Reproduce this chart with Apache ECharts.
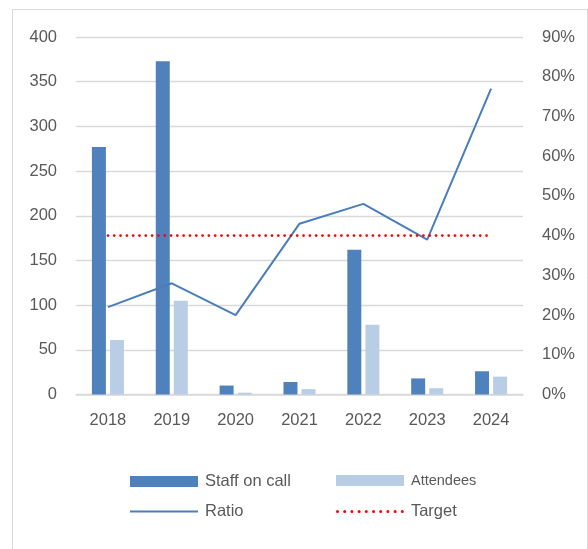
<!DOCTYPE html>
<html>
<head>
<meta charset="utf-8">
<script src="https://cdn.jsdelivr.net/npm/echarts@6/dist/echarts.min.js"></script>
<style>
html,body{margin:0;padding:0;background:#fff;}
#chart{width:588px;height:549px;}
</style>
</head>
<body>
<div id="chart"></div>
<script>
var years = ['2018', '2019', '2020', '2021', '2022', '2023', '2024'];
var staffOnCall = [277, 373, 10, 14, 162, 18, 26];
var attendees = [61, 105, 2, 6, 78, 7, 20];
var ratio = [0.22, 0.28, 0.20, 0.43, 0.48, 0.39, 0.77];
var target = [0.40, 0.40, 0.40, 0.40, 0.40, 0.40, 0.40];
var leftTicks = {min: 0, max: 400, interval: 50};
var rightTicks = {min: 0, max: 0.9, interval: 0.1};

var FONT = '"Liberation Sans", Arial, sans-serif';
var TXT = '#595959';
var chart = echarts.init(document.getElementById('chart'), null, {renderer: 'canvas'});
var legendText = {color: TXT, fontSize: 16.5, fontFamily: FONT, padding: [0, 0, 0, 2]};

// dotted legend icon (10 round dots)
var dotPath = 'path://';
for (var i = 0; i < 10; i++) {
  var cx = 1.5 + i * 7.2;
  dotPath += 'M' + (cx - 1.5) + ',1.5 a1.5,1.5 0 1,0 3,0 a1.5,1.5 0 1,0 -3,0 Z ';
}

chart.setOption({
  animation: false,
  backgroundColor: '#fff',
  graphic: [{
    type: 'rect', silent: true,
    shape: {x: 12.5, y: 9.5, width: 575, height: 570},
    style: {fill: 'none', stroke: '#d9d9d9', lineWidth: 1}
  }],
  grid: {left: 76, top: 37, width: 447, height: 357.5, containLabel: false},
  legend: [
    {data: [{name: 'Staff on call', icon: 'rect'}], left: 130, top: 473, padding: 0, itemWidth: 68, itemHeight: 11, itemGap: 0, textStyle: legendText},
    {data: [{name: 'Attendees', icon: 'rect'}], left: 336, top: 473, padding: 0, itemWidth: 68, itemHeight: 11, itemGap: 0, textStyle: {color: TXT, fontSize: 14.5, fontFamily: FONT, padding: [0, 0, 0, 2]}},
    {data: [{name: 'Ratio', icon: 'rect'}], left: 130, top: 503, padding: 0, itemWidth: 68, itemHeight: 2, itemGap: 0, textStyle: legendText},
    {data: [{name: 'Target', icon: dotPath}], left: 336, top: 503, padding: 0, itemWidth: 68, itemHeight: 3, itemGap: 0, textStyle: legendText}
  ],
  xAxis: {
    type: 'category', data: years,
    axisLine: {lineStyle: {color: '#d9d9d9', width: 1.5}},
    axisTick: {show: false},
    axisLabel: {color: TXT, fontSize: 16.5, fontFamily: FONT, margin: 17}
  },
  yAxis: [{
    type: 'value', min: leftTicks.min, max: leftTicks.max, interval: leftTicks.interval,
    axisLine: {show: false}, axisTick: {show: false},
    axisLabel: {color: TXT, fontSize: 16.5, fontFamily: FONT, margin: 19},
    splitLine: {lineStyle: {color: '#d9d9d9', width: 1.3}}
  }, {
    type: 'value', min: rightTicks.min, max: rightTicks.max, interval: rightTicks.interval,
    axisLine: {show: false}, axisTick: {show: false},
    axisLabel: {color: TXT, fontSize: 16.5, fontFamily: FONT, margin: 19,
      formatter: function (v) { return Math.round(v * 100) + '%'; }},
    splitLine: {show: false}
  }],
  series: [{
    name: 'Staff on call', type: 'bar', data: staffOnCall, yAxisIndex: 0,
    barWidth: 14, barGap: '29%',
    itemStyle: {color: '#4f81bd'}
  }, {
    name: 'Attendees', type: 'bar', data: attendees, yAxisIndex: 0,
    barWidth: 14, barGap: '29%',
    itemStyle: {color: '#b9cde5'}
  }, {
    name: 'Ratio', type: 'line', data: ratio, yAxisIndex: 1,
    symbol: 'none', itemStyle: {color: '#4a7ebb'},
    lineStyle: {color: '#4a7ebb', width: 2}
  }, {
    name: 'Target', type: 'line', data: target, yAxisIndex: 1,
    symbol: 'none', itemStyle: {color: '#ff0000'},
    lineStyle: {color: '#ff0000', width: 2.8, type: [0.01, 6.3], cap: 'round'}
  }]
});
</script>
</body>
</html>
